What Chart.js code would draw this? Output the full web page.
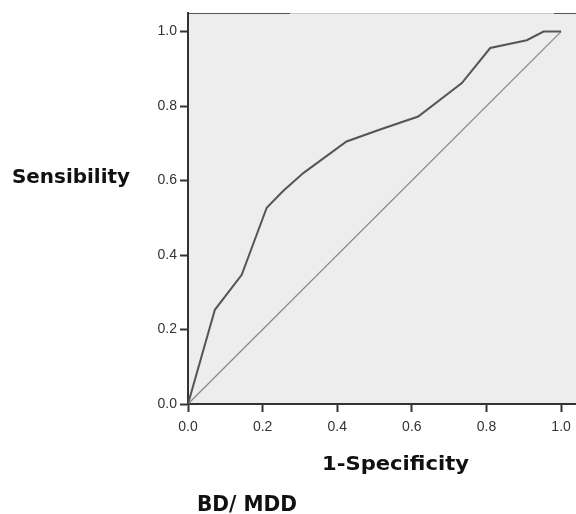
<!DOCTYPE html>
<html>
<head>
<style>
  body { margin: 0; background: #fff; }
  #wrap { width: 576px; height: 514px; }
</style>
</head>
<body>
<div id="wrap">
  <canvas id="rocChart" width="576" height="514"></canvas>
</div>

<script src="https://cdn.jsdelivr.net/npm/chart.js"></script>

<script>
  // ROC curve
  const specComplement = [0, 0.072, 0.144, 0.211, 0.255, 0.309, 0.425, 0.515, 0.617, 0.734, 0.810, 0.908, 0.953, 1.0];
  const sensitivity    = [0, 0.253, 0.347, 0.527, 0.572, 0.620, 0.705, 0.737, 0.772, 0.862, 0.956, 0.977, 1.0, 1.0];
  const refX = [0, 1];
  const refY = [0, 1];
  const tickValues = [0, 0.2, 0.4, 0.6, 0.8, 1.0];

  const yTitle = 'Sensibility';
  const xTitle = '1-Specificity';
  const caption = 'BD/ MDD';

  const toPoints = (xs, ys) => xs.map((x, i) => ({ x: x, y: ys[i] }));

  // grey plot area + thin top frame
  const plotBg = {
    id: 'plotBg',
    beforeDraw(chart) {
      const { ctx, chartArea: a } = chart;
      ctx.save();
      ctx.fillStyle = '#ededed';
      ctx.fillRect(a.left, a.top, a.right - a.left, a.bottom - a.top);
      ctx.lineWidth = 1;
      ctx.strokeStyle = '#c8c8c8';
      ctx.beginPath();
      ctx.moveTo(a.left, a.top + 0.5);
      ctx.lineTo(a.right, a.top + 0.5);
      ctx.stroke();
      ctx.strokeStyle = '#555';
      ctx.beginPath();
      ctx.moveTo(a.left, a.top + 0.5);
      ctx.lineTo(a.left + 102, a.top + 0.5);
      ctx.moveTo(a.right - 22, a.top + 0.5);
      ctx.lineTo(a.right, a.top + 0.5);
      ctx.stroke();
      ctx.restore();
    }
  };

  // bold, wide labels placed around the plot
  function wideText(ctx, text, x, y, size, width) {
    ctx.save();
    ctx.font = 'bold ' + size + 'px "DejaVu Sans", sans-serif';
    const w = ctx.measureText(text).width;
    ctx.translate(x, y);
    ctx.scale(width / w, 1);
    ctx.fillStyle = '#111';
    ctx.textBaseline = 'alphabetic';
    ctx.fillText(text, 0, 0);
    ctx.restore();
  }

  const titles = {
    id: 'titles',
    afterDraw(chart) {
      const ctx = chart.ctx;
      wideText(ctx, yTitle, 12, 183, 19, 118);
      wideText(ctx, xTitle, 322, 470, 19, 147);
      wideText(ctx, caption, 197, 511, 21, 100);
    }
  };

  const axisStyle = {
    type: 'linear',
    min: 0,
    grid: {
      display: true,
      drawOnChartArea: false,
      drawTicks: true,
      tickLength: 8,
      tickWidth: 2,
      tickColor: '#333'
    },
    border: { display: true, color: '#333', width: 2 },
    ticks: {
      color: '#333',
      font: { family: '"Liberation Sans", Arial, sans-serif', size: 14 },
      callback: v => v.toFixed(1)
    },
    afterBuildTicks: scale => {
      scale.ticks = tickValues.map(v => ({ value: v }));
    }
  };

  new Chart(document.getElementById('rocChart'), {
    type: 'scatter',
    data: {
      datasets: [
        {
          label: 'ROC',
          data: toPoints(specComplement, sensitivity),
          showLine: true,
          borderColor: '#555',
          borderWidth: 2,
          pointRadius: 0,
          tension: 0
        },
        {
          label: 'Reference',
          data: toPoints(refX, refY),
          showLine: true,
          borderColor: '#8a8a8a',
          borderWidth: 1.3,
          pointRadius: 0
        }
      ]
    },
    options: {
      responsive: false,
      animation: false,
      layout: { padding: { top: 13, right: 0, left: 0, bottom: 0 } },
      plugins: {
        legend: { display: false },
        tooltip: { enabled: false }
      },
      scales: {
        x: Object.assign({}, axisStyle, {
          max: 1.04,
          ticks: Object.assign({}, axisStyle.ticks, { padding: 7 }),
          afterFit: s => { s.height = 110; s.paddingRight = 0; s.paddingLeft = 0; }
        }),
        y: Object.assign({}, axisStyle, {
          max: 1.05,
          ticks: Object.assign({}, axisStyle.ticks, { padding: 3 }),
          afterFit: s => { s.width = 188; }
        })
      }
    },
    plugins: [plotBg, titles]
  });
</script>
</body>
</html>
